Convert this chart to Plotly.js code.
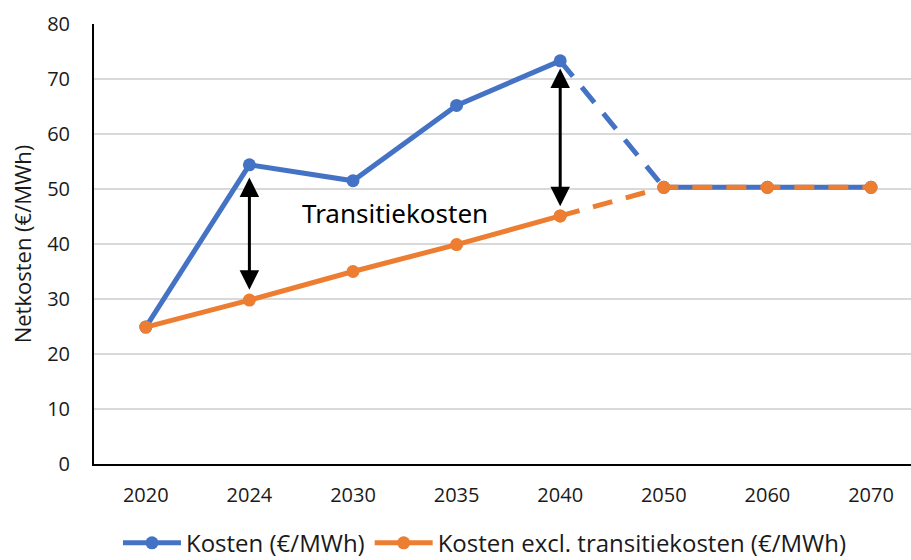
<!DOCTYPE html>
<html>
<head>
<meta charset="utf-8">
<script src="https://cdn.plot.ly/plotly-3.0.1.min.js"></script>
<style>html,body{margin:0;padding:0;background:#fff;}#chart{width:911px;height:560px;}</style>
</head>
<body>
<div id="chart"></div>
<script>
const years = ["2020", "2024", "2030", "2035", "2040", "2050", "2060", "2070"];
const kosten = [24.9, 54.4, 51.5, 65.2, 73.3, 50.3, 50.3, 50.3];
const kostenExcl = [24.9, 29.8, 35.0, 39.9, 45.1, 50.3, 50.3, 50.3];
const seriesNames = ["Kosten (€/MWh)", "Kosten excl. transitiekosten (€/MWh)"];
const arrow2024 = {x: "2024", from: 31.4, to: 52.1};
const arrow2040 = {x: "2040", from: 46.6, to: 71.9};
const labelText = "Transitiekosten";

const BLUE = "#4472C4", ORANGE = "#ED7D31";
const FONT = "'Open Sans', 'Noto Sans', sans-serif";
const TXT = "#1a1a1a";
const lw = 5, ms = 13;
const dashPat = "20px,14px";

const traces = [
  {x: years.slice(0,5), y: kosten.slice(0,5), name: seriesNames[0], type: "scatter", mode: "lines+markers",
   line: {color: BLUE, width: lw}, marker: {color: BLUE, size: ms}, legendrank: 1},
  {x: years.slice(4,6), y: kosten.slice(4,6), type: "scatter", mode: "lines", showlegend: false,
   line: {color: BLUE, width: lw, dash: dashPat}},
  {x: years.slice(5), y: kosten.slice(5), type: "scatter", mode: "lines+markers", showlegend: false,
   line: {color: BLUE, width: lw}, marker: {color: BLUE, size: ms}},
  {x: years.slice(0,5), y: kostenExcl.slice(0,5), name: seriesNames[1], type: "scatter", mode: "lines+markers",
   line: {color: ORANGE, width: lw}, marker: {color: ORANGE, size: ms}, legendrank: 2},
  {x: years.slice(4), y: kostenExcl.slice(4), type: "scatter", mode: "lines+markers", showlegend: false,
   line: {color: ORANGE, width: lw, dash: dashPat}, marker: {color: ORANGE, size: ms}}
];

function dblArrow(a) {
  const i = years.indexOf(a.x);
  return {x: i, y: a.to, ax: i, ay: a.from, xref: "x", yref: "y", axref: "x", ayref: "y",
    text: "", showarrow: true, arrowhead: 2, startarrowhead: 2, arrowside: "end+start",
    arrowsize: 1.3, startarrowsize: 1.3, arrowwidth: 3, arrowcolor: "#000", standoff: 0, startstandoff: 0};
}

const layout = {
  width: 911, height: 560,
  margin: {l: 94, r: 0, t: 24, b: 96},
  paper_bgcolor: "#fff", plot_bgcolor: "#fff",
  font: {family: FONT, size: 20, color: TXT},
  showlegend: true,
  legend: {orientation: "h", x: 0.1295, xanchor: "left", xref: "container",
    y: 0.03, yanchor: "middle", yref: "container",
    font: {size: 24, color: TXT}, traceorder: "normal", itemwidth: 58},
  xaxis: {type: "category", categoryorder: "array", categoryarray: years,
    range: [-0.5, 7.386], showgrid: false, zeroline: false,
    showline: true, linecolor: "#000", linewidth: 2, ticks: "", ticklabelstandoff: 12,
    tickfont: {size: 20, color: TXT}, fixedrange: true},
  yaxis: {range: [0, 80], dtick: 10, showgrid: true, gridcolor: "#d9d9d9", gridwidth: 1.5,
    zeroline: false, showline: true, linecolor: "#000", linewidth: 2, ticks: "",
    ticklabelstandoff: 18, tickfont: {size: 20, color: TXT},
    title: {text: "Netkosten (€/MWh)", font: {size: 22, color: TXT}, standoff: 9}, fixedrange: true},
  annotations: [
    dblArrow(arrow2024), dblArrow(arrow2040),
    {x: 2.41, y: 45.6, xref: "x", yref: "y", text: labelText, showarrow: false,
     font: {size: 26, color: "#000", family: "'Noto Sans', sans-serif"}, xanchor: "center", yanchor: "middle"}
  ]
};

Plotly.newPlot("chart", traces, layout, {staticPlot: true, displayModeBar: false});
</script>
</body>
</html>
